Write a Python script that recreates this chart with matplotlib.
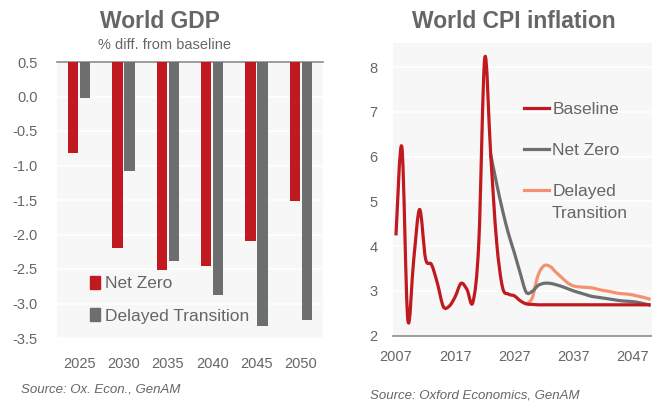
import matplotlib
matplotlib.use("Agg")
import matplotlib.pyplot as plt
from matplotlib.patches import Patch, PathPatch
from matplotlib.lines import Line2D
from matplotlib.path import Path
import numpy as np

plt.rcParams['font.family'] = ['Liberation Sans', 'DejaVu Sans']

# ---- Data: World GDP (% diff. from baseline)
gdp_years = ['2025', '2030', '2035', '2040', '2045', '2050']
gdp_net_zero = [-0.82, -2.19, -2.52, -2.46, -2.09, -1.52]
gdp_delayed = [-0.02, -1.08, -2.38, -2.87, -3.32, -3.24]

# ---- Data: World CPI inflation
cpi_years = list(range(2007, 2051))
cpi_baseline = [4.24, 6.21, 2.36, 3.70, 4.82, 3.72, 3.59, 3.17, 2.65, 2.66,
                2.87, 3.17, 3.03, 2.75, 4.10, 8.20, 6.05, 4.10, 3.08, 2.93,
                2.89, 2.78, 2.71, 2.70, 2.69, 2.69, 2.69, 2.69, 2.69, 2.69,
                2.69, 2.69, 2.69, 2.69, 2.69, 2.69, 2.69, 2.69, 2.69, 2.69,
                2.69, 2.69, 2.69, 2.69]
nz_years = list(range(2023, 2051))
cpi_net_zero = [6.05, 5.40, 4.80, 4.28, 3.85, 3.39, 2.97, 2.99, 3.12, 3.17,
                3.17, 3.14, 3.10, 3.05, 3.00, 2.96, 2.92, 2.88, 2.86, 2.84,
                2.82, 2.80, 2.78, 2.77, 2.76, 2.74, 2.71, 2.68]
dt_years = list(range(2029, 2051))
cpi_delayed = [2.71, 2.84, 3.35, 3.56, 3.55, 3.42, 3.30, 3.18, 3.11, 3.09,
               3.08, 3.07, 3.04, 3.01, 2.99, 2.96, 2.94, 2.93, 2.91, 2.88,
               2.85, 2.81]

RED = '#C0191F'
GREY = '#6D6E70'
ORANGE = '#F4926F'
TXT = '#666666'
BG = '#F7F7F7'

W, H = 652, 403
fig = plt.figure(figsize=(W / 100, H / 100), dpi=100)
fig.patch.set_facecolor('white')


def px_rect(l, t, r, b):
    return [l / W, 1 - b / H, (r - l) / W, (b - t) / H]


def smooth_line(ax, xs, ys, color, lw, z):
    """Excel-style smoothed line: Bezier segments through every data point."""
    P = np.column_stack([np.asarray(xs, float), np.asarray(ys, float)])
    n = len(P)
    verts = [P[0]]
    codes = [Path.MOVETO]
    for i in range(n - 1):
        p0 = P[i - 1] if i > 0 else P[i]
        p1, p2 = P[i], P[i + 1]
        p3 = P[i + 2] if i + 2 < n else P[i + 1]
        c1 = p1 + (p2 - p0) / 6.0
        c2 = p2 - (p3 - p1) / 6.0
        verts += [c1, c2, p2]
        codes += [Path.CURVE4] * 3
    patch = PathPatch(Path(verts, codes), facecolor='none', edgecolor=color,
                      lw=lw, joinstyle='round', capstyle='butt', zorder=z)
    ax.add_patch(patch)


# ---------------- Left: World GDP ----------------
ax1 = fig.add_axes(px_rect(57, 62, 323, 338))
ax1.set_facecolor(BG)
x = np.arange(len(gdp_years))
bw = 0.23
base = 0.5
ax1.bar(x - 0.135, np.array(gdp_net_zero) - base, bottom=base, width=bw,
        color=RED, zorder=3)
ax1.bar(x + 0.135, np.array(gdp_delayed) - base, bottom=base, width=bw,
        color=GREY, zorder=3)
ax1.set_xlim(-0.5, len(gdp_years) - 0.5)
ax1.set_ylim(-3.5, 0.5)
ax1.set_yticks(np.arange(-3.5, 0.51, 0.5))
ax1.set_yticklabels([f'{v:.1f}' for v in np.arange(-3.5, 0.51, 0.5)])
ax1.set_xticks(x)
ax1.set_xticklabels(gdp_years)
ax1.grid(axis='y', color='white', lw=1.2, zorder=0)
for s in ['left', 'right', 'bottom']:
    ax1.spines[s].set_visible(False)
ax1.spines['top'].set_color('#8C8C8C')
ax1.spines['top'].set_linewidth(1.2)
ax1.tick_params(length=0, labelsize=10.5, colors=TXT)
ax1.tick_params(axis='y', pad=14)
ax1.tick_params(axis='x', pad=14)

leg1 = ax1.legend(handles=[Patch(color=RED, label='Net Zero'),
                           Patch(color=GREY, label='Delayed Transition')],
                  loc='upper left', bbox_to_anchor=(81 / W, 1 - 267 / H),
                  bbox_transform=fig.transFigure, frameon=False,
                  fontsize=12.5, handlelength=0.6, handleheight=0.8,
                  handletextpad=0.3, labelspacing=0.95, borderpad=0)
for t in leg1.get_texts():
    t.set_color(TXT)

fig.text(160 / W, 1 - 22 / H, 'World GDP', ha='center', va='center',
         fontsize=16.5, fontweight='bold', color=TXT)
fig.text(164 / W, 1 - 45 / H, '% diff. from baseline', ha='center',
         va='center', fontsize=10.5, color=TXT)
fig.text(21 / W, 1 - 390 / H, 'Source: Ox. Econ., GenAM', ha='left',
         va='center', fontsize=9.5, style='italic', color=TXT)

# ---------------- Right: World CPI inflation ----------------
ax2 = fig.add_axes(px_rect(393, 43.3, 653.5, 335.7))
ax2.set_facecolor(BG)
smooth_line(ax2, dt_years, cpi_delayed, ORANGE, 2.3, 3)
smooth_line(ax2, nz_years, cpi_net_zero, GREY, 2.3, 4)
smooth_line(ax2, cpi_years, cpi_baseline, RED, 2.3, 5)
ax2.set_xlim(2006.5, 2050.5)
ax2.set_ylim(2, 8.53)
ax2.set_yticks(range(2, 9))
ax2.set_xticks([2007, 2017, 2027, 2037, 2047])
ax2.grid(axis='y', color='white', lw=1.2, zorder=0)
for s in ['left', 'right', 'top']:
    ax2.spines[s].set_visible(False)
ax2.spines['bottom'].set_color('#8C8C8C')
ax2.spines['bottom'].set_linewidth(1.2)
ax2.tick_params(length=0, labelsize=10.5, colors=TXT)
ax2.tick_params(axis='y', pad=11)
ax2.tick_params(axis='x', pad=10)

leg2 = ax2.legend(handles=[Line2D([], [], color=RED, lw=2.3, label='Baseline'),
                           Line2D([], [], color=GREY, lw=2.3, label='Net Zero'),
                           Line2D([], [], color=ORANGE, lw=2.3, label='Delayed')],
                  loc='upper left', bbox_to_anchor=(515 / W, 1 - 93 / H),
                  bbox_transform=fig.transFigure, frameon=False,
                  fontsize=12.5, handlelength=1.45, handletextpad=0.2,
                  labelspacing=1.5, borderpad=0)
for t in leg2.get_texts():
    t.set_color(TXT)
fig.text(552 / W, 1 - 213 / H, 'Transition', ha='left', va='center',
         fontsize=12.5, color=TXT)

fig.text(514 / W, 1 - 22 / H, 'World CPI inflation', ha='center',
         va='center', fontsize=16.5, fontweight='bold', color=TXT)
fig.text(370 / W, 1 - 395 / H, 'Source: Oxford Economics, GenAM',
         ha='left', va='center', fontsize=9.5, style='italic', color=TXT)

fig.savefig('out.png', dpi=100, facecolor='white')
